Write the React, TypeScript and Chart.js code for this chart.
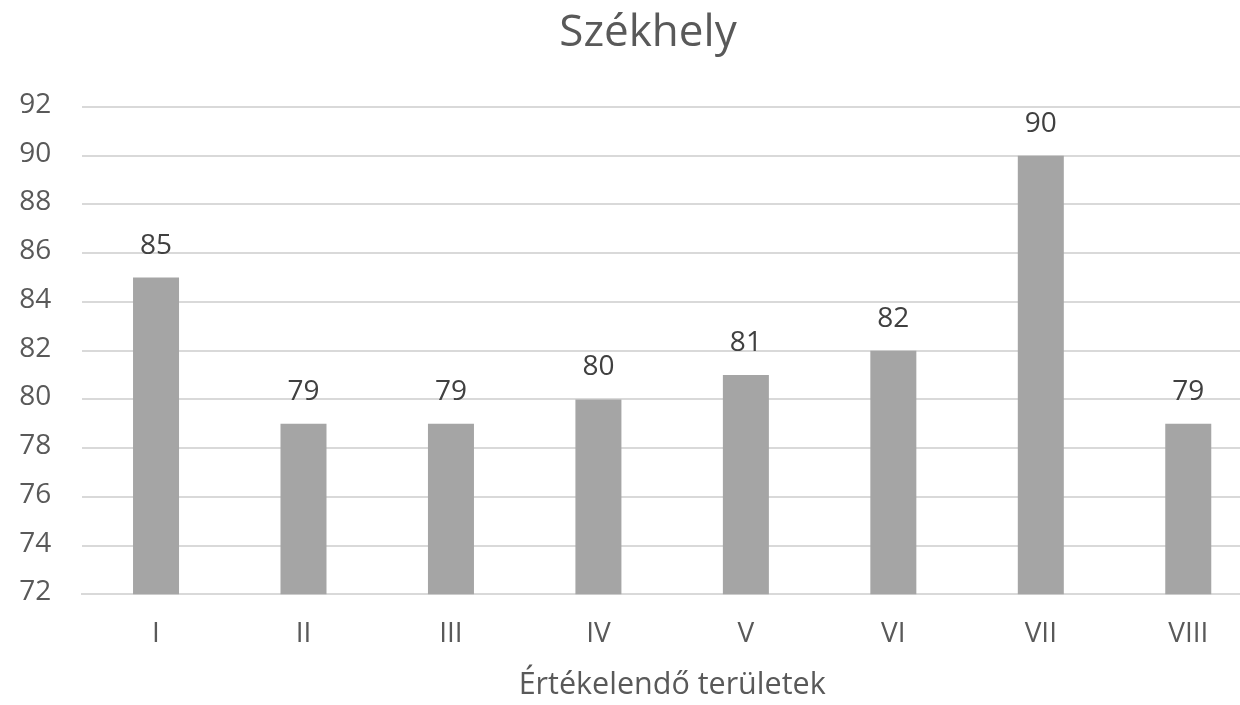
import React, { useEffect, useRef } from "react";
import { Chart, registerables } from "chart.js";

Chart.register(...registerables);

const categories = ["I", "II", "III", "IV", "V", "VI", "VII", "VIII"];
const values = [85, 79, 79, 80, 81, 82, 90, 79];
const chartTitle = "Székhely";
const xAxisTitle = "Értékelendő területek";
const yMin = 72;
const yMax = 92;
const yStep = 2;

const FONT = "'Open Sans', 'DejaVu Sans', sans-serif";
const AXIS_COLOR = "#595959";
const LABEL_COLOR = "#404040";
const GRID_COLOR = "#D9D9D9";
const BAR_COLOR = "#A5A5A5";

const dataLabelPlugin = {
  id: "dataLabels",
  afterDatasetsDraw(chart: any) {
    const { ctx } = chart;
    chart.data.datasets.forEach((ds: any, di: number) => {
      const meta = chart.getDatasetMeta(di);
      meta.data.forEach((bar: any, i: number) => {
        ctx.save();
        ctx.font = `28px ${FONT}`;
        ctx.fillStyle = LABEL_COLOR;
        ctx.textAlign = "center";
        ctx.textBaseline = "alphabetic";
        ctx.fillText(String(ds.data[i]), bar.x, bar.y - 24);
        ctx.restore();
      });
    });
  },
};

export default function App() {
  const canvasRef = useRef<HTMLCanvasElement | null>(null);

  useEffect(() => {
    if (!canvasRef.current) return;
    const chart = new Chart(canvasRef.current, {
      type: "bar",
      data: {
        labels: categories,
        datasets: [
          {
            data: values,
            backgroundColor: BAR_COLOR,
            borderWidth: 0,
            barPercentage: 0.312,
            categoryPercentage: 1,
          },
        ],
      },
      options: {
        animation: false,
        responsive: false,
        maintainAspectRatio: false,
        layout: { padding: { left: 0, right: 0, top: 0, bottom: 0 } },
        plugins: {
          legend: { display: false },
          tooltip: { enabled: false },
          title: {
            display: true,
            text: chartTitle,
            color: AXIS_COLOR,
            font: { family: FONT, size: 44, weight: "normal" },
            padding: { top: 7, bottom: 47.2 },
          },
        },
        scales: {
          x: {
            grid: { display: false, drawTicks: false },
            border: { display: true, color: GRID_COLOR, width: 2 },
            ticks: {
              color: AXIS_COLOR,
              font: { family: FONT, size: 28 },
              padding: 23,
            },
            title: {
              display: true,
              text: xAxisTitle,
              color: AXIS_COLOR,
              font: { family: FONT, size: 30.5 },
              padding: { top: 0, bottom: 1.4 },
            },
            afterFit: (s: any) => {
              s.height = 110.7;
            },
          },
          y: {
            min: yMin,
            max: yMax,
            grid: { color: GRID_COLOR, lineWidth: 2, drawTicks: false },
            border: { display: false },
            ticks: {
              stepSize: yStep,
              color: AXIS_COLOR,
              font: { family: FONT, size: 28 },
              padding: 31,
              labelOffset: -2,
            },
            afterFit: (s: any) => {
              s.width = 82.3;
            },
          },
          yRightMargin: {
            type: "linear",
            position: "right",
            grid: { display: false, drawTicks: false },
            border: { display: false },
            ticks: { display: false },
            afterFit: (s: any) => {
              s.width = 34;
            },
          },
        },
      },
      plugins: [dataLabelPlugin],
    });
    return () => chart.destroy();
  }, []);

  return (
    <div
      style={{
        position: "absolute",
        left: 0,
        top: 0,
        width: 1240,
        height: 705,
        overflow: "hidden",
        background: "#ffffff",
      }}
    >
      <canvas ref={canvasRef} width={1296} height={705} />
    </div>
  );
}
